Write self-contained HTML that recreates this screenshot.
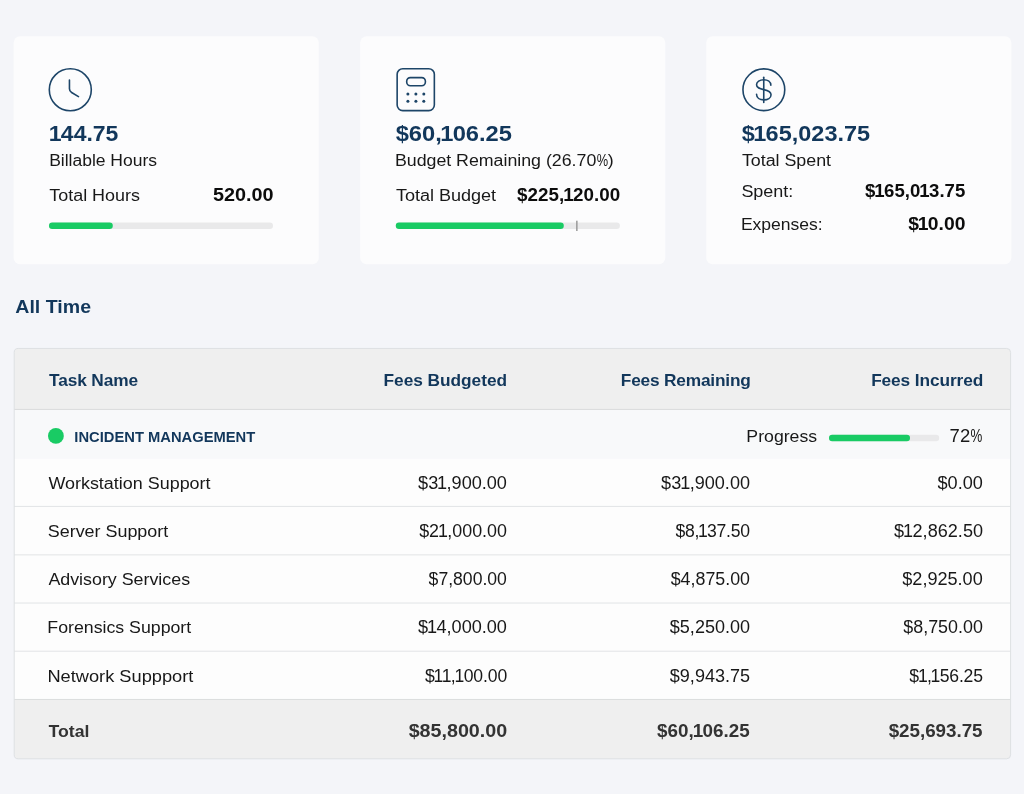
<!DOCTYPE html>
<html lang="en">
<head>
<meta charset="utf-8">
<title>Project Budget Summary</title>
<style>
html,body{margin:0;padding:0}
body{width:1024px;height:794px;position:relative;overflow:hidden;background:#f4f5f9;font-family:"Liberation Sans",Arial,sans-serif}
.bg{position:absolute;left:0;top:0}
.ico{position:absolute;overflow:visible}
.t{position:absolute;white-space:nowrap;transform-origin:0 50%;will-change:transform;font-size:17.3px;line-height:30px;font-weight:400;color:#181818}
.t.b{font-weight:700}
.t.num{font-size:17.6px}
.t.big{font-size:21.6px}
.t.h{font-size:18.7px}
.t.grp{font-size:14.3px}
.t.blue{color:#12375b}
.t.blk{color:#0c0c0c}
.t.tot{color:#333}
section,article,header{display:block;margin:0;padding:0}
.t i{font-style:normal}
.t i.o{margin:0 -.034em 0 -.06em}
.t i.pc{display:inline-block;transform:scaleX(.72);transform-origin:0 50%;margin-right:-.25em}
</style>
</head>
<body>
<svg class="bg" width="1024" height="794" viewBox="0 0 1024 794">
  <defs>
    <clipPath id="tc"><rect x="14.2" y="348.45" width="996.4" height="410.35" rx="4" ry="4"/></clipPath>
  </defs>
  <!-- summary cards -->
  <rect x="13.6" y="36.3" width="305.2" height="227.9" rx="6.5" fill="#fcfcfd"/>
  <rect x="360.1" y="36.3" width="305.2" height="227.9" rx="6.5" fill="#fcfcfd"/>
  <rect x="706.2" y="36.3" width="305.2" height="227.9" rx="6.5" fill="#fcfcfd"/>
  <!-- progress bars -->
  <rect x="49" y="222.5" width="224" height="6.4" rx="3.2" fill="#e9e9ea"/>
  <rect x="49" y="222.5" width="63.8" height="6.4" rx="3.2" fill="#19cb64"/>
  <rect x="395.8" y="222.5" width="224.1" height="6.4" rx="3.2" fill="#e9e9ea"/>
  <rect x="395.8" y="222.5" width="168" height="6.4" rx="3.2" fill="#19cb64"/>
  <rect x="576.1" y="220.7" width="1.5" height="10.3" fill="#9a9a9a"/>
  <!-- table -->
  <g clip-path="url(#tc)">
    <rect x="13" y="348" width="999" height="61.4" fill="#efefef"/>
    <rect x="13" y="409.4" width="999" height="49.2" fill="#f8f9fa"/>
    <rect x="13" y="458.6" width="999" height="241" fill="#fdfdfd"/>
    <rect x="13" y="699.5" width="999" height="60" fill="#efefef"/>
    <rect x="13" y="408.95" width="999" height="0.95" fill="#dadbdb"/>
    <rect x="13" y="505.9" width="999" height="1.05" fill="#e3e5e7"/>
    <rect x="13" y="554.35" width="999" height="1.05" fill="#e3e5e7"/>
    <rect x="13" y="602.5" width="999" height="1.05" fill="#e3e5e7"/>
    <rect x="13" y="650.7" width="999" height="1.05" fill="#e3e5e7"/>
    <rect x="13" y="698.95" width="999" height="0.95" fill="#dadcdc"/>
  </g>
  <rect x="14.2" y="348.45" width="996.4" height="410.35" rx="4" ry="4" fill="none" stroke="#dde0e3" stroke-width="1"/>
  <circle cx="55.9" cy="435.9" r="7.9" fill="#19cb64"/>
  <rect x="829" y="434.8" width="110.2" height="6.4" rx="3.2" fill="#e9e9ea"/>
  <rect x="829" y="434.8" width="81" height="6.4" rx="3.2" fill="#19cb64"/>
</svg>

<svg class="ico" style="left:48px;top:67px" width="46" height="46" viewBox="0 0 46 46" fill="none" stroke="#1d4568" stroke-width="1.6" stroke-linecap="round" stroke-linejoin="round">
  <circle cx="22.3" cy="22.75" r="21"/>
  <path d="M21.45 13.1 V21.8 Q21.45 24.3 23.6 25.5 L30.5 29.6"/>
</svg>

<svg class="ico" style="left:395px;top:67px" width="46" height="46" viewBox="0 0 46 46" fill="none" stroke="#1d4568" stroke-width="1.6" stroke-linecap="round" stroke-linejoin="round">
  <rect x="2.15" y="1.75" width="37.2" height="41.9" rx="5.6" ry="5.6"/>
  <rect x="11.7" y="10.6" width="18.7" height="8.1" rx="3.7" ry="3.7"/>
  <g fill="#1d4568" stroke="none">
    <circle cx="12.9" cy="27.0" r="1.5"/><circle cx="20.9" cy="27.0" r="1.5"/><circle cx="28.8" cy="27.0" r="1.5"/>
    <circle cx="12.9" cy="34.25" r="1.5"/><circle cx="20.9" cy="34.25" r="1.5"/><circle cx="28.8" cy="34.25" r="1.5"/>
  </g>
</svg>

<svg class="ico" style="left:741px;top:67px" width="46" height="46" viewBox="0 0 46 46" fill="none" stroke="#1d4568" stroke-width="1.6" stroke-linecap="round" stroke-linejoin="round">
  <circle cx="22.85" cy="22.75" r="20.9"/>
  <g transform="translate(22.75 22.6)">
    <path d="M0 -12.3 V12.8"/>
    <path d="M7.1 -4.3 C7.1 -7.8 4 -9.9 0 -9.9 C-4 -9.9 -7.2 -7.8 -7.2 -4.8 C-7.2 -1.5 -4 -0.8 0 0 C4 0.8 7.3 2 7.3 5.2 C7.3 8.3 4 10.3 0 10.3 C-4 10.3 -7.2 8.2 -7.2 4.6"/>
  </g>
</svg>

<section class="cards">
  <article class="card">
    <span class="t big b blue" id="t0" style="left:50px;top:119px;letter-spacing:-0.009px;transform:translateX(0.21px) scaleX(1.0653)"><i class="o">1</i>44.75</span>
    <span class="t" id="t1" style="left:49px;top:145px;letter-spacing:-0.014px;transform:translateX(0.14px) scaleX(1.0135)">Billable Hours</span>
    <span class="t" id="t2" style="left:49px;top:180px;letter-spacing:0.008px;transform:translateX(0.20px) scaleX(1.0377)">Total Hours</span>
    <span class="t num b blk" id="t3" style="left:213px;top:180px;letter-spacing:-0.018px;transform:translateX(0.09px) scaleX(1.1258)">520.00</span>
  </article>
  <article class="card">
    <span class="t big b blue" id="t4" style="left:395px;top:119px;letter-spacing:-0.014px;transform:translateX(0.65px) scaleX(1.0974)">$60,<i class="o">1</i>06.25</span>
    <span class="t" id="t5" style="left:394px;top:145px;letter-spacing:-0.016px;transform:translateX(0.91px) scaleX(1.0293)">Budget Remaining (26.70<i class="pc">%</i>)</span>
    <span class="t" id="t6" style="left:395px;top:180px;letter-spacing:-0.029px;transform:translateX(0.90px) scaleX(1.0461)">Total Budget</span>
    <span class="t num b blk" id="t7" style="left:517px;top:180px;letter-spacing:0.031px;transform:translateX(0.08px) scaleX(1.0680)">$225,<i class="o">1</i>20.00</span>
  </article>
  <article class="card">
    <span class="t big b blue" id="t8" style="left:741px;top:119px;letter-spacing:0.002px;transform:translateX(0.67px) scaleX(1.0874)">$<i class="o">1</i>65,023.75</span>
    <span class="t" id="t9" style="left:741px;top:145px;letter-spacing:-0.020px;transform:translateX(0.90px) scaleX(1.0334)">Total Spent</span>
    <span class="t" id="t10" style="left:741px;top:176px;letter-spacing:-0.015px;transform:translateX(0.38px) scaleX(1.0400)">Spent:</span>
    <span class="t num b blk" id="t11" style="left:865px;top:176px;letter-spacing:0.027px;transform:translateX(0.09px) scaleX(1.0569)">$<i class="o">1</i>65,0<i class="o">1</i>3.75</span>
    <span class="t" id="t12" style="left:740px;top:209px;letter-spacing:-0.003px;transform:translateX(0.91px) scaleX(1.0144)">Expenses:</span>
    <span class="t num b blk" id="t13" style="left:908px;top:209px;letter-spacing:0.011px;transform:translateX(0.13px) scaleX(1.0973)">$<i class="o">1</i>0.00</span>
  </article>
</section>
<header class="period">
  <span class="t h b blue" id="t14" style="left:15px;top:292px;letter-spacing:0.006px;transform:translateX(0.30px) scaleX(1.0459)">All Time</span>
</header>
<section class="fees" role="table">
  <div class="thead" role="row">
    <span class="t b blue" id="t15" style="left:49px;top:365px;letter-spacing:-0.128px;transform:translateX(0.09px) scaleX(1.0000)">Task Name</span>
    <span class="t b blue" id="t16" style="left:383px;top:365px;letter-spacing:-0.028px;transform:translateX(0.53px) scaleX(1.0000)">Fees Budgeted</span>
    <span class="t b blue" id="t17" style="left:620px;top:365px;letter-spacing:-0.191px;transform:translateX(0.82px) scaleX(1.0000)">Fees Remaining</span>
    <span class="t b blue" id="t18" style="left:871px;top:365px;letter-spacing:-0.104px;transform:translateX(0.14px) scaleX(1.0000)">Fees Incurred</span>
  </div>
  <div class="group" role="row">
    <span class="t grp b blue" id="t19" style="left:74px;top:422px;letter-spacing:-0.005px;transform:translateX(0.35px) scaleX(1.0311)">INCIDENT MANAGEMENT</span>
    <span class="t" id="t20" style="left:746px;top:421px;letter-spacing:-0.002px;transform:translateX(0.36px) scaleX(1.0234)">Progress</span>
    <span class="t num" id="t21" style="left:949px;top:421px;letter-spacing:0.111px;transform:translateX(0.53px) scaleX(1.0487)">72<i class="pc">%</i></span>
  </div>
  <div class="tr" role="row">
    <span class="t" id="t22" style="left:48px;top:468px;letter-spacing:0.005px;transform:translateX(0.39px) scaleX(1.0372)">Workstation Support</span>
    <span class="t num" id="t23" style="left:418px;top:468px;letter-spacing:-0.022px;transform:translateX(0.08px) scaleX(1.0299)">$3<i class="o">1</i>,900.00</span>
    <span class="t num" id="t24" style="left:661px;top:468px;letter-spacing:0.012px;transform:translateX(0.12px) scaleX(1.0276)">$3<i class="o">1</i>,900.00</span>
    <span class="t num" id="t25" style="left:937px;top:468px;letter-spacing:0.004px;transform:translateX(0.50px) scaleX(1.0295)">$0.00</span>
  </div>
  <div class="tr" role="row">
    <span class="t" id="t26" style="left:47px;top:516px;letter-spacing:-0.013px;transform:translateX(0.83px) scaleX(1.0369)">Server Support</span>
    <span class="t num" id="t27" style="left:419px;top:516px;letter-spacing:-0.005px;transform:translateX(0.14px) scaleX(1.0170)">$2<i class="o">1</i>,000.00</span>
    <span class="t num" id="t28" style="left:675px;top:516px;letter-spacing:-0.275px;transform:translateX(0.52px) scaleX(1.0000)">$8,<i class="o">1</i>37.50</span>
    <span class="t num" id="t29" style="left:894px;top:516px;letter-spacing:0.018px;transform:translateX(0.04px) scaleX(1.0276)">$<i class="o">1</i>2,862.50</span>
  </div>
  <div class="tr" role="row">
    <span class="t" id="t30" style="left:48px;top:564px;letter-spacing:-0.000px;transform:translateX(0.38px) scaleX(1.0318)">Advisory Services</span>
    <span class="t num" id="t31" style="left:428px;top:564px;letter-spacing:-0.011px;transform:translateX(0.61px) scaleX(1.0013)">$7,800.00</span>
    <span class="t num" id="t32" style="left:670px;top:564px;letter-spacing:0.001px;transform:translateX(0.69px) scaleX(1.0129)">$4,875.00</span>
    <span class="t num" id="t33" style="left:902px;top:564px;letter-spacing:-0.009px;transform:translateX(0.31px) scaleX(1.0285)">$2,925.00</span>
  </div>
  <div class="tr" role="row">
    <span class="t" id="t34" style="left:47px;top:612px;letter-spacing:-0.004px;transform:translateX(0.37px) scaleX(1.0260)">Forensics Support</span>
    <span class="t num" id="t35" style="left:418px;top:612px;letter-spacing:-0.022px;transform:translateX(0.08px) scaleX(1.0299)">$<i class="o">1</i>4,000.00</span>
    <span class="t num" id="t36" style="left:669px;top:612px;letter-spacing:0.014px;transform:translateX(0.79px) scaleX(1.0245)">$5,250.00</span>
    <span class="t num" id="t37" style="left:903px;top:612px;letter-spacing:0.005px;transform:translateX(0.25px) scaleX(1.0169)">$8,750.00</span>
  </div>
  <div class="tr" role="row">
    <span class="t" id="t38" style="left:47px;top:661px;letter-spacing:0.002px;transform:translateX(0.39px) scaleX(1.0550)">Network Suppport</span>
    <span class="t num" id="t39" style="left:424px;top:661px;letter-spacing:-0.096px;transform:translateX(0.95px) scaleX(1.0000)">$<i class="o">1</i><i class="o">1</i>,<i class="o">1</i>00.00</span>
    <span class="t num" id="t40" style="left:669px;top:661px;letter-spacing:0.003px;transform:translateX(0.79px) scaleX(1.0254)">$9,943.75</span>
    <span class="t num" id="t41" style="left:909px;top:661px;letter-spacing:-0.170px;transform:translateX(0.34px) scaleX(1.0000)">$<i class="o">1</i>,<i class="o">1</i>56.25</span>
  </div>
  <div class="tfoot" role="row">
    <span class="t b tot" id="t42" style="left:48px;top:716px;letter-spacing:0.038px;transform:translateX(0.47px) scaleX(1.0224)">Total</span>
    <span class="t num b tot" id="t43" style="left:408px;top:716px;letter-spacing:-0.017px;transform:translateX(0.67px) scaleX(1.1200)">$85,800.00</span>
    <span class="t num b tot" id="t44" style="left:656px;top:716px;letter-spacing:0.033px;transform:translateX(0.95px) scaleX(1.0712)">$60,<i class="o">1</i>06.25</span>
    <span class="t num b tot" id="t45" style="left:888px;top:716px;letter-spacing:-0.031px;transform:translateX(0.65px) scaleX(1.0696)">$25,693.75</span>
  </div>
</section>
</body>
</html>
